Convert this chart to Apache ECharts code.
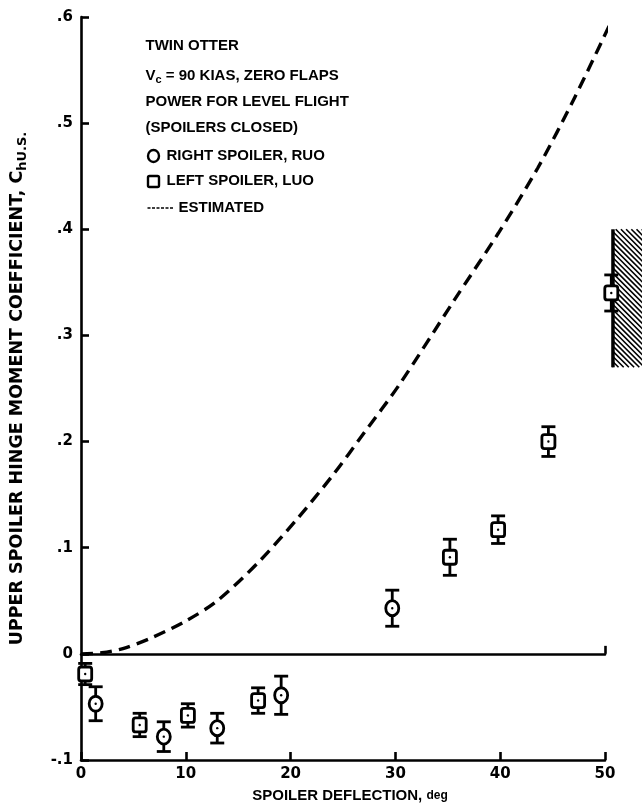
<!DOCTYPE html>
<html>
<head>
<meta charset="utf-8">
<script src="https://cdn.jsdelivr.net/npm/echarts@6/dist/echarts.min.js"></script>
<style>
  html, body { margin: 0; padding: 0; background: #fff; }
  #chart { width: 642px; height: 810px; }
</style>
</head>
<body>
<div id="chart"></div>
<script>
// right spoiler (RUO) - circles
const rightX = [1.4, 7.9, 13.0, 19.1, 29.7];
const rightY = [-0.047, -0.078, -0.070, -0.039, 0.043];
const rightErr = [0.016, 0.014, 0.014, 0.018, 0.017];

// left spoiler (LUO) - squares
const leftX = [0.4, 5.6, 10.2, 16.9, 35.2, 39.8, 44.6, 50.6];
const leftY = [-0.019, -0.067, -0.058, -0.044, 0.091, 0.117, 0.200, 0.340];
const leftErr = [0.010, 0.011, 0.011, 0.012, 0.017, 0.013, 0.014, 0.017];

// estimated curve
const estX = [0, 2, 4, 6.7, 10, 13, 17, 20.7, 24, 27, 30.4, 35.6, 39.8, 43.6, 47.1, 50.8];
const estY = [0, 0.001, 0.005, 0.015, 0.031, 0.050, 0.087, 0.128, 0.168, 0.208, 0.254, 0.333, 0.396, 0.458, 0.524, 0.600];

// hatched band at right edge: [x0, y0, x1, y1]
const hatchBand = [50.76, 0.27, 54, 0.40];

const yTickLabels = ['-.1', '0', '.1', '.2', '.3', '.4', '.5', '.6'];
const xTickLabels = ['0', '10', '20', '30', '40', '50'];

const FONT = '"Liberation Sans", Arial, sans-serif';
const WIDE = '"DejaVu Sans", sans-serif';
const INK = '#000';

const chart = echarts.init(document.getElementById('chart'));

function errorBarItem(shape) {
    return function (params, api) {
        const x = api.value(0);
        const y = api.value(1);
        const e = api.value(2);
        const c = api.coord([x, y]);
        const top = api.coord([x, y + e])[1];
        const bot = api.coord([x, y - e])[1];
        const cap = 7;
        const line = { stroke: INK, lineWidth: 2.8 };
        const marker = shape === 'circle'
            ? { type: 'ellipse', shape: { cx: c[0], cy: c[1], rx: 6.5, ry: 7.5 } }
            : { type: 'rect', shape: { x: c[0] - 6.5, y: c[1] - 7, width: 13, height: 14, r: 2.5 } };
        marker.style = { fill: '#fff', stroke: INK, lineWidth: 2.8 };
        return {
            type: 'group',
            children: [
                { type: 'line', shape: { x1: c[0], y1: top, x2: c[0], y2: bot }, style: line },
                { type: 'line', shape: { x1: c[0] - cap, y1: top, x2: c[0] + cap, y2: top }, style: line },
                { type: 'line', shape: { x1: c[0] - cap, y1: bot, x2: c[0] + cap, y2: bot }, style: line },
                marker,
                { type: 'circle', shape: { cx: c[0], cy: c[1], r: 1.2 }, style: { fill: INK } },
            ],
        };
    };
}

function hatchItem(params, api) {
    const p0 = api.coord([api.value(0), api.value(3)]);
    const p1 = api.coord([api.value(2), api.value(1)]);
    const L = p0[0], T = p0[1], R = p1[0], B = p1[1];
    const children = [];
    const step = 5.2;
    // "\" lines: y = x + k
    for (let k = T - R; k <= B - L; k += step) {
        const xa = Math.max(L, T - k);
        const xb = Math.min(R, B - k);
        if (xb <= xa) continue;
        children.push({
            type: 'line',
            shape: { x1: xa, y1: xa + k, x2: xb, y2: xb + k },
            style: { stroke: INK, lineWidth: 1.6 },
        });
    }
    children.push({
        type: 'line',
        shape: { x1: L, y1: T, x2: L, y2: B },
        style: { stroke: INK, lineWidth: 3.5 },
    });
    return { type: 'group', children };
}

const axisLine = { show: true, lineStyle: { color: INK, width: 2.6 } };
const tickStyle = { show: true, inside: true, length: 8, lineStyle: { color: INK, width: 2.6 } };
const labelStyle = { color: INK, fontFamily: WIDE, fontWeight: 'bold', fontSize: 15 };
const legendFont = `bold 15px ${FONT}`;

chart.setOption({
    animation: false,
    backgroundColor: '#fff',
    grid: { left: 81, right: 37, top: 17, bottom: 50 },
    xAxis: [
        {
            type: 'value',
            min: 0,
            max: 50,
            interval: 10,
            position: 'bottom',
            axisLine: { ...axisLine, onZero: false },
            axisTick: tickStyle,
            splitLine: { show: false },
            axisLabel: { ...labelStyle, margin: 7, formatter: (v) => xTickLabels[Math.round(v / 10)] },
            name: 'SPOILER DEFLECTION, {u|deg}',
            nameLocation: 'middle',
            nameGap: 28,
            nameTextStyle: {
                color: INK, fontFamily: FONT, fontWeight: 'bold', fontSize: 15,
                padding: [0, 0, 0, 14],
                rich: { u: { color: INK, fontFamily: FONT, fontWeight: 'bold', fontSize: 12 } },
            },
        },
        {
            // zero line
            type: 'value',
            min: 0,
            max: 50,
            interval: 10,
            position: 'bottom',
            axisLine: { ...axisLine, onZero: true },
            axisTick: { ...tickStyle, customValues: [50] },
            axisLabel: { show: false },
            splitLine: { show: false },
        },
    ],
    yAxis: {
        type: 'value',
        min: -0.1,
        max: 0.6,
        interval: 0.1,
        axisLine,
        axisTick: tickStyle,
        splitLine: { show: false },
        axisLabel: {
            ...labelStyle,
            margin: 8,
            formatter: (v) => yTickLabels[Math.round(v * 10) + 1],
        },
        name: 'UPPER SPOILER HINGE MOMENT COEFFICIENT, C{sub|hU.S.}',
        nameLocation: 'middle',
        nameGap: 52,
        nameTextStyle: {
            color: INK, fontFamily: WIDE, fontWeight: 'bold', fontSize: 17.5,
            rich: { sub: { color: INK, fontFamily: WIDE, fontWeight: 'bold', fontSize: 13, padding: [10, 0, 0, 0] } },
        },
    },
    graphic: [
        {
            type: 'group',
            left: 145,
            top: 38,
            children: [
                { type: 'text', x: 0, y: 0, style: { text: 'TWIN OTTER', font: legendFont, fill: INK } },
                {
                    type: 'text', x: 0, y: 29,
                    style: {
                        text: 'V{sub|c} = 90 KIAS, ZERO FLAPS', font: legendFont, fill: INK,
                        rich: { sub: { font: `bold 11px ${FONT}`, fill: INK, padding: [7, 0, 0, 0] } },
                    },
                },
                { type: 'text', x: 0, y: 56, style: { text: 'POWER FOR LEVEL FLIGHT', font: legendFont, fill: INK } },
                { type: 'text', x: 0, y: 82, style: { text: '(SPOILERS CLOSED)', font: legendFont, fill: INK } },
                { type: 'ellipse', shape: { cx: 8, cy: 118, rx: 5.5, ry: 6 }, style: { fill: '#fff', stroke: INK, lineWidth: 2.4 } },
                { type: 'text', x: 21, y: 110, style: { text: 'RIGHT SPOILER, RUO', font: legendFont, fill: INK } },
                { type: 'rect', shape: { x: 2.5, y: 138, width: 11, height: 11, r: 1.5 }, style: { fill: '#fff', stroke: INK, lineWidth: 2.4 } },
                { type: 'text', x: 21, y: 135, style: { text: 'LEFT SPOILER, LUO', font: legendFont, fill: INK } },
                { type: 'line', shape: { x1: 2, y1: 170, x2: 29, y2: 170 }, style: { stroke: INK, lineWidth: 1.6, lineDash: [3, 1.5] } },
                { type: 'text', x: 33, y: 162, style: { text: 'ESTIMATED', font: legendFont, fill: INK } },
            ],
        },
    ],
    series: [
        {
            name: 'ESTIMATED',
            type: 'line',
            data: estX.map((x, i) => [x, estY[i]]),
            smooth: 0.3,
            showSymbol: false,
            symbol: 'none',
            clip: false,
            lineStyle: { color: INK, width: 3.4, type: [12, 7] },
            z: 3,
        },
        {
            name: 'HATCH',
            type: 'custom',
            renderItem: hatchItem,
            data: [hatchBand],
            clip: false,
            z: 2,
        },
        {
            name: 'RIGHT SPOILER, RUO',
            type: 'custom',
            renderItem: errorBarItem('circle'),
            data: rightX.map((x, i) => [x, rightY[i], rightErr[i]]),
            clip: false,
            z: 4,
        },
        {
            name: 'LEFT SPOILER, LUO',
            type: 'custom',
            renderItem: errorBarItem('square'),
            data: leftX.map((x, i) => [x, leftY[i], leftErr[i]]),
            clip: false,
            z: 4,
        },
    ],
});
</script>
</body>
</html>
